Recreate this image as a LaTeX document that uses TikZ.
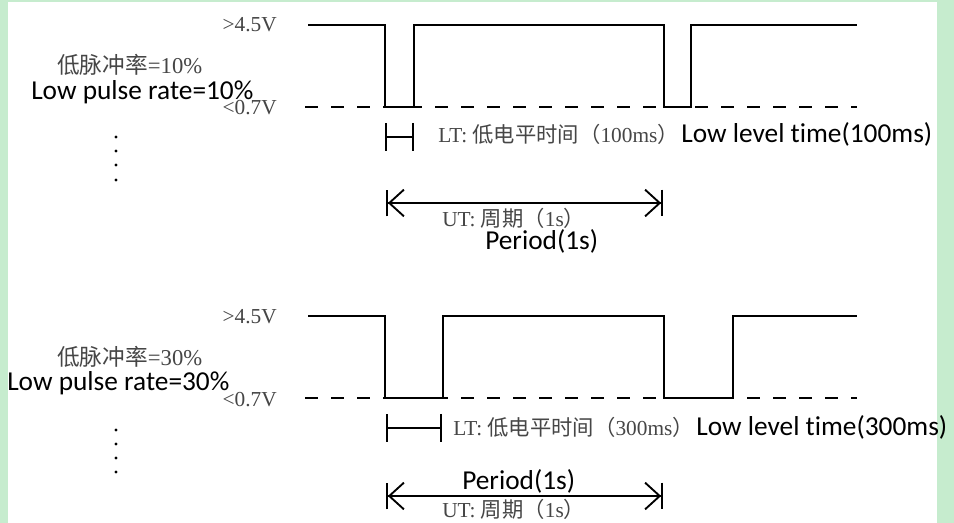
\documentclass[tikz,border=0pt]{standalone}
\usepackage{fontspec}
\setmainfont{Liberation Serif}
\newfontfamily\calfont[Ligatures=NoCommon]{Carlito}
\newfontfamily\cjkfont{Noto Sans CJK SC}
\usetikzlibrary{arrows.meta}
\definecolor{bggreen}{RGB}{198,236,206}
\definecolor{lblgray}{RGB}{70,70,70}
\begin{document}
\begin{tikzpicture}[x=0.75pt,y=-0.75pt,
  wave/.style={line width=1.4pt, line join=miter},
  lowline/.style={line width=1.4pt, dash pattern=on 9.75pt off 9.75pt},
  grey/.style={inner sep=0pt, text=lblgray, font=\fontsize{16}{18}\selectfont},
  volt/.style={grey, anchor=base east},
  rate/.style={inner sep=0pt, text=lblgray, font=\fontsize{17}{19}\selectfont, anchor=base west},
  eng/.style={inner sep=0pt, text=black, font=\calfont\fontsize{20.5}{23}\selectfont, anchor=base west},
  ltbar/.style={line width=1.4pt, {Bar[width=21pt]}-{Bar[width=21pt]}},
  period/.style={line width=1.4pt,
    {Bar[width=20pt]Straight Barb[length=11pt,width=20pt]}-{Straight Barb[length=11pt,width=20pt]Bar[width=20pt]}},
  dot/.style={fill=black}
]
\useasboundingbox (0,0) rectangle (954,523);
\fill[bggreen] (0,0) rectangle (954,523);
\fill[white] (8,2) rectangle (937,523);

% ---------- top panel ----------
\node[volt] (hiA) at (277,32) {>4.5V};
\node[volt] (loA) at (277,115) {<0.7V};
\node[rate] (rateA) at (57,74) {{\cjkfont 低脉冲率}=10\%};
\node[eng] (rateAe) at (31,100) {Low pulse rate=10\%};
\foreach \i/\yy in {1/137,2/151,3/165,4/180}{\fill[dot] (116,\yy) circle[radius=1.2pt];}

\draw[lowline] (305,107) -- (857,107);
\draw[wave] (308,25) -- (385,25) -- (385,107) -- (414,107) -- (414,25) -- (664,25)
  -- (664,107) -- (691,107) -- (691,25) -- (857,25);

\coordinate (ltAs) at (385,137);
\coordinate (ltAe) at (414,137);
\draw[ltbar] (ltAs) -- (ltAe);
\node[grey, anchor=base west] (ltA) at (438,143) {LT:\ {\cjkfont 低电平时间（}100ms{\cjkfont ）}};
\node[eng] (ltAe2) at ([xshift=1.5pt]ltA.base east) {Low level time(100ms)};

\coordinate (pAs) at (386,203);
\coordinate (pAe) at (663,203);
\draw[period] (pAs) -- (pAe);
\node[grey, anchor=base west] (utA) at (442,227) {UT:\ {\cjkfont 周期（}1s{\cjkfont ）}};
\node[eng] (perA) at (485,250) {Period(1s)};

% ---------- bottom panel ----------
\node[volt] (hiB) at (277,324) {>4.5V};
\node[volt] (loB) at (277,407) {<0.7V};
\node[rate] (rateB) at (57,366) {{\cjkfont 低脉冲率}=30\%};
\node[eng] (rateBe) at (7,391) {Low pulse rate=30\%};
\foreach \i/\yy in {1/430,2/444,3/458,4/472}{\fill[dot] (116,\yy) circle[radius=1.2pt];}

\draw[lowline] (305,398) -- (857,398);
\draw[wave] (308,316) -- (385,316) -- (385,398) -- (443,398) -- (443,316) -- (664,316)
  -- (664,398) -- (733,398) -- (733,316) -- (857,316);

\coordinate (ltBs) at (386,428);
\coordinate (ltBe) at (442,428);
\draw[ltbar] (ltBs) -- (ltBe);
\node[grey, anchor=base west] (ltB) at (453,436) {LT:\ {\cjkfont 低电平时间（}300ms{\cjkfont ）}};
\node[eng] (ltBe2) at ([xshift=1.5pt]ltB.base east) {Low level time(300ms)};

\coordinate (pBs) at (386,496);
\coordinate (pBe) at (663,496);
\draw[period] (pBs) -- (pBe);
\node[eng] (perB) at (462,490) {Period(1s)};
\node[grey, anchor=base west] (utB) at (442,518) {UT:\ {\cjkfont 周期（}1s{\cjkfont ）}};
\end{tikzpicture}
\end{document}
